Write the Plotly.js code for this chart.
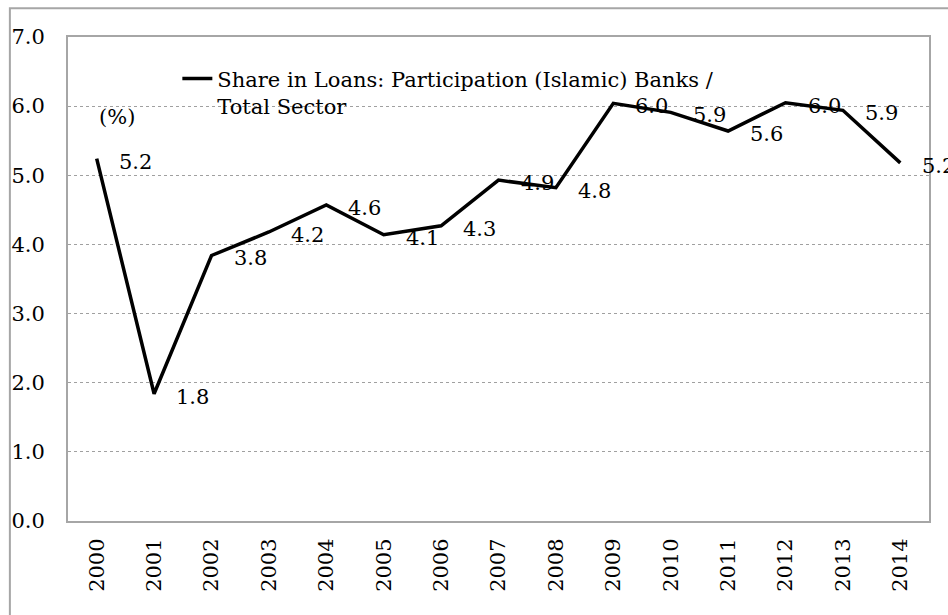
<!DOCTYPE html>
<html>
<head>
<meta charset="utf-8">
<script src="https://cdn.plot.ly/plotly-3.0.1.min.js"></script>
<style>html,body{margin:0;padding:0;background:#fff;}#chart{width:948px;height:615px;}</style>
</head>
<body>
<div id="chart"></div>
<script>
var years = ['2000','2001','2002','2003','2004','2005','2006','2007','2008','2009','2010','2011','2012','2013','2014'];
var shareValues = [5.24, 1.84, 3.84, 4.18, 4.57, 4.14, 4.27, 4.93, 4.82, 6.04, 5.91, 5.64, 6.05, 5.94, 5.18];
var labelTexts = ['5.2','1.8','3.8','4.2','4.6','4.1','4.3','4.9','4.8','6.0','5.9','5.6','6.0','5.9','5.2'];
var seriesName = 'Share in Loans: Participation (Islamic) Banks /<br>Total Sector';
var unitLabel = '(%)';

var FONT = 'DejaVu Serif';

var trace = {
  x: years,
  y: shareValues,
  type: 'scatter',
  mode: 'lines',
  name: seriesName,
  line: {color: '#000000', width: 3.5},
  hoverinfo: 'skip'
};

var annotations = years.map(function(yr, i){
  return {
    x: i, y: shareValues[i], xref: 'x', yref: 'y',
    text: labelTexts[i], showarrow: false,
    xanchor: 'left', yanchor: 'middle',
    xshift: 20, yshift: -3,
    font: {family: FONT, size: 21, color: '#000'}
  };
});
annotations.push({
  x: 0.034, y: 0.835, xref: 'paper', yref: 'paper',
  text: unitLabel, showarrow: false, xanchor: 'left', yanchor: 'middle',
  font: {family: FONT, size: 21, color: '#000'}
});

var layout = {
  width: 948, height: 615,
  margin: {l: 68, r: 19, t: 37, b: 94},
  paper_bgcolor: '#ffffff',
  plot_bgcolor: '#ffffff',
  font: {family: FONT, size: 21, color: '#000'},
  showlegend: true,
  legend: {
    x: 0.127, y: 0.956, xanchor: 'left', yanchor: 'top',
    bgcolor: 'rgba(0,0,0,0)', borderwidth: 0,
    font: {family: FONT, size: 21, color: '#000'},
    valign: 'top', tracegroupgap: 0
  },
  xaxis: {
    type: 'category',
    range: [-0.5, 14.5],
    tickangle: -90,
    showgrid: false,
    zeroline: false,
    showline: true, linecolor: '#a6a6a6', linewidth: 2, mirror: true,
    ticks: '',
    ticklabelstandoff: 7,
    tickfont: {family: FONT, size: 21, color: '#000'}
  },
  yaxis: {
    range: [0, 7],
    dtick: 1,
    tick0: 0,
    tickformat: '.1f',
    showgrid: true,
    gridcolor: '#a0a0a0', griddash: 'dot', gridwidth: 1,
    zeroline: false,
    showline: true, linecolor: '#a6a6a6', linewidth: 2, mirror: true,
    ticks: '',
    ticklabelstandoff: 17,
    tickfont: {family: FONT, size: 21, color: '#000'}
  },
  annotations: annotations,
  shapes: [{
    type: 'rect', xref: 'paper', yref: 'paper',
    x0: -0.0675, x1: 1.2, y0: -0.3, y1: 1.0595,
    line: {color: '#a6a6a6', width: 2}, layer: 'below'
  }]
};

Plotly.newPlot('chart', [trace], layout, {displayModeBar: false, staticPlot: true});
</script>
</body>
</html>
